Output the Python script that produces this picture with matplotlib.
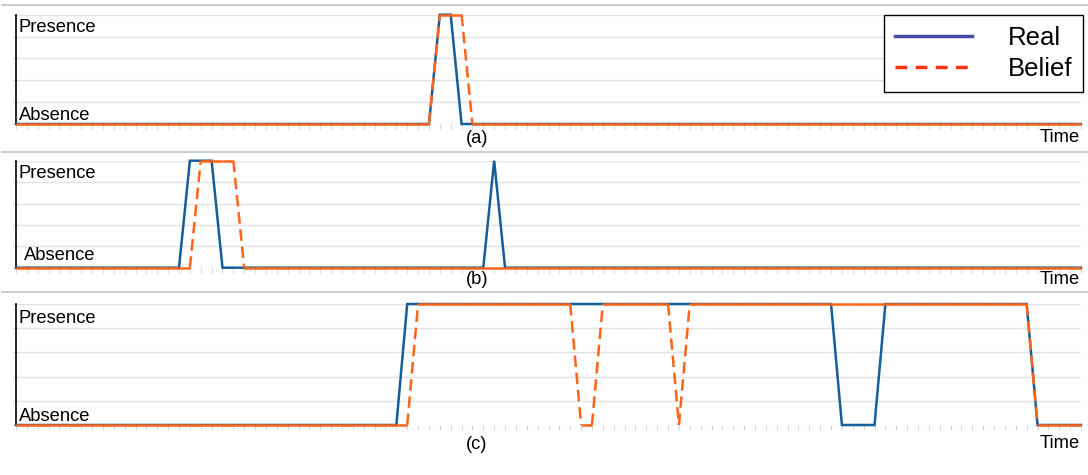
import numpy as np
import matplotlib.pyplot as plt
from matplotlib.lines import Line2D

# time steps 0..98, 0 = absence, 1 = presence
time = np.arange(99)

real_a = np.zeros(99); real_a[[39, 40]] = 1
belief_a = np.zeros(99); belief_a[[39, 40, 41]] = 1

real_b = np.zeros(99); real_b[[16, 17, 18, 44]] = 1
belief_b = np.zeros(99); belief_b[[17, 18, 19, 20]] = 1

real_c = np.zeros(99); real_c[36:94] = 1; real_c[76:80] = 0
belief_c = np.zeros(99); belief_c[37:94] = 1; belief_c[[52, 53, 61]] = 0

panel_labels = ["(a)", "(b)", "(c)"]
series = [(real_a, belief_a), (real_b, belief_b), (real_c, belief_c)]

W, H = 1088, 475
REAL = "#155e9c"
BELIEF = "#ff6418"
FS = 13.2

plt.rcParams["font.family"] = "Liberation Sans"


def fx(x):
    return x / W


def fy(y):
    return 1 - y / H


fig = plt.figure(figsize=(W / 100, H / 100), dpi=100)

# axes boxes in pixels: (top, bottom)
boxes = [(14.7, 124), (160.7, 267.7), (304, 425)]
left, right = 16, 1081
label_y = [139, 279.5, 444.5]
time_y = [137, 279, 443]
pres_y = [32.3, 177.5, 323.3]
abs_y = [120, 259.5, 421]
abs_x = [19, 24, 18.5]

for k, ((top, bot), (real, belief)) in enumerate(zip(boxes, series)):
    ax = fig.add_axes([fx(left), fy(bot), fx(right - left), (bot - top) / H])
    ax.set_xlim(0, 98)
    ax.set_ylim(0, 1)
    ax.set_yticks(np.linspace(0, 1, 6))
    ax.set_xticks(time)
    ax.set_xticklabels([])
    ax.set_yticklabels([])
    ax.grid(axis="y", color="#e2e2e2", lw=1)
    ax.tick_params(axis="x", length=3.5, width=0.8, color="#d8d8d8")
    ax.tick_params(axis="y", length=2.5, width=0.8, color="#d0d0d0")
    for s in ["top", "right", "bottom"]:
        ax.spines[s].set_visible(False)
    ax.spines["left"].set_color("black")
    ax.spines["left"].set_linewidth(1.2)

    ax.plot(time, real, color=REAL, lw=1.8, solid_joinstyle="miter", clip_on=False, zorder=3)
    # belief: flat stretches solid, transitions dashed
    for i in range(len(time) - 1):
        seg_x = time[i:i + 2]
        seg_y = belief[i:i + 2]
        if seg_y[0] == seg_y[1]:
            ax.plot(seg_x, seg_y, color=BELIEF, lw=1.8, solid_capstyle="butt",
                    clip_on=False, zorder=4)
        else:
            ax.plot(seg_x, seg_y, color=BELIEF, lw=1.8, ls=(0, (4.6, 2.3)),
                    dash_capstyle="butt", clip_on=False, zorder=4)

    fig.text(fx(19), fy(pres_y[k]), "Presence", fontsize=FS, va="baseline", ha="left")
    fig.text(fx(abs_x[k]), fy(abs_y[k]), "Absence", fontsize=FS, va="baseline", ha="left")
    fig.text(fx(477), fy(label_y[k]), panel_labels[k], fontsize=FS, va="center", ha="center")
    fig.text(fx(1080), fy(time_y[k]), "Time", fontsize=FS, va="center", ha="right")

# separators between the three strips
for y in [5, 151.7, 292]:
    fig.add_artist(Line2D([fx(2), 1], [fy(y), fy(y)], color="#c4c4c4", lw=1.2))

handles = [Line2D([], [], color="#4b4ba6", lw=2.5),
           Line2D([], [], color="#ff3311", lw=2.5, ls=(0, (3.4, 2.4)))]
leg = fig.legend(handles, ["Real", "Belief"], loc="upper right",
                 bbox_to_anchor=(fx(1083), fy(15)), borderaxespad=0,
                 handlelength=3.0, handletextpad=1.4,
                 labelspacing=0.28, borderpad=0.42, fancybox=False,
                 edgecolor="black", framealpha=1,
                 prop={"family": "Liberation Sans", "size": 18.5})
leg.get_frame().set_linewidth(1.0)

fig.savefig("out.png", dpi=100)
